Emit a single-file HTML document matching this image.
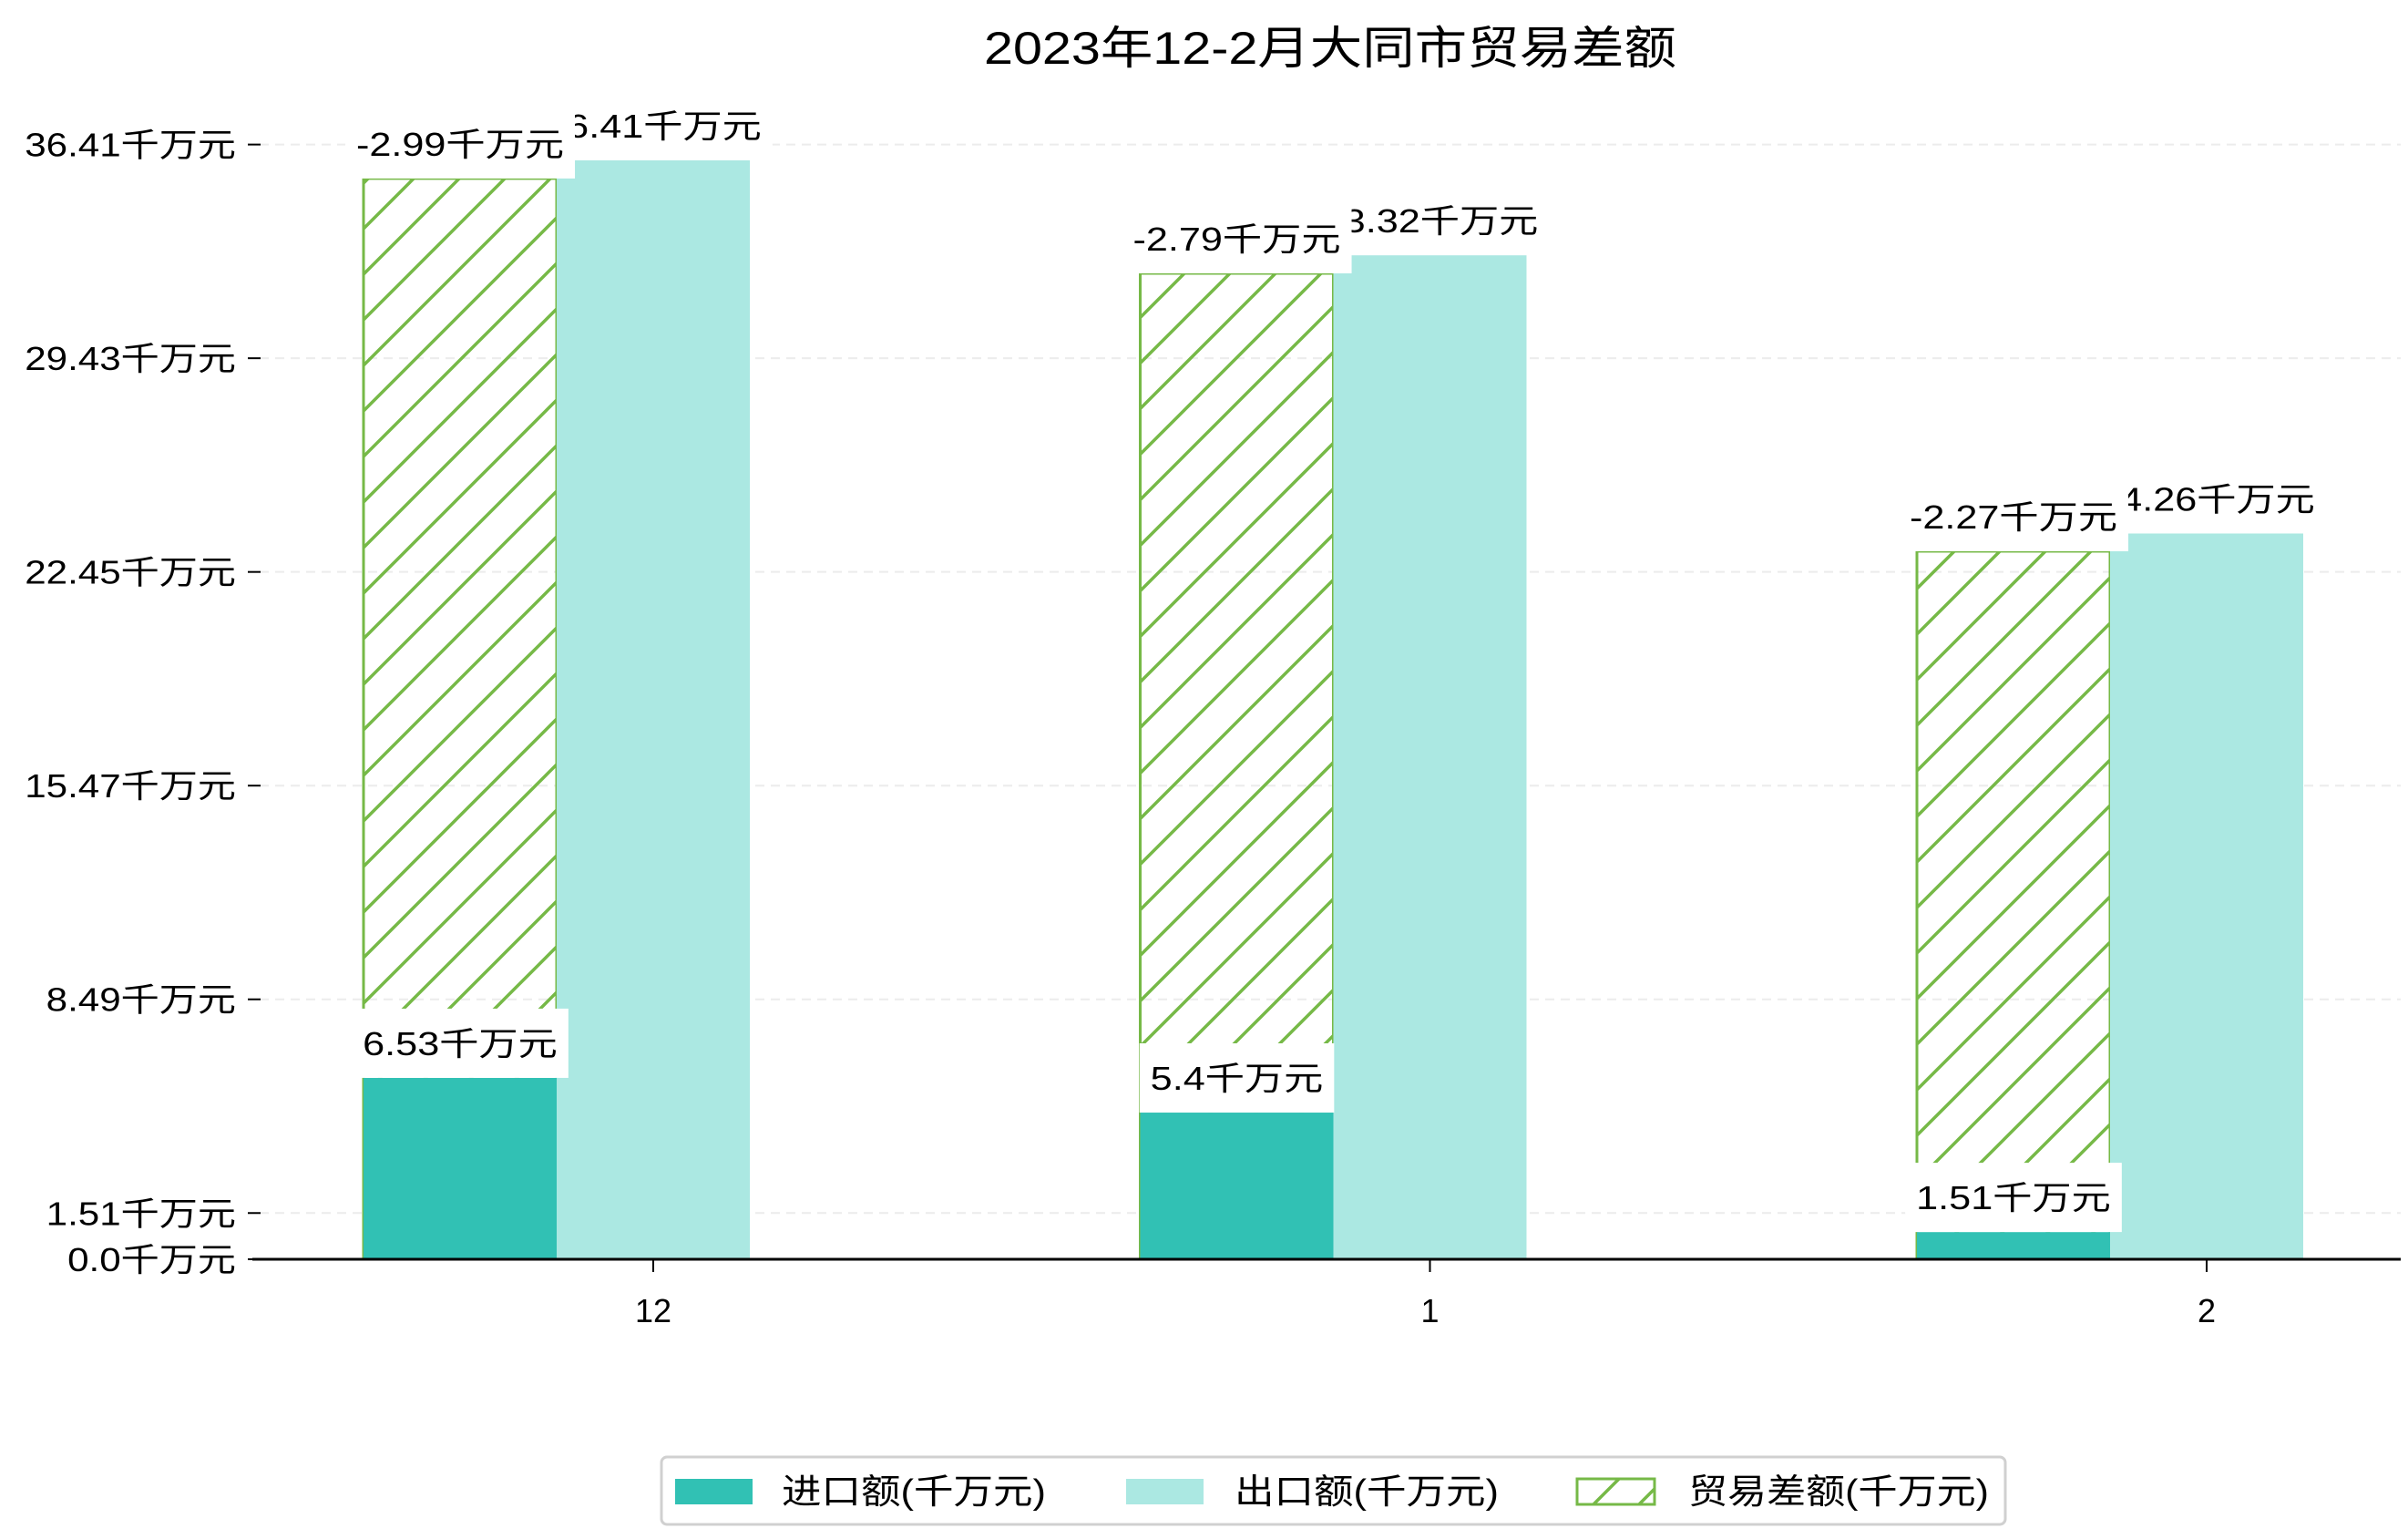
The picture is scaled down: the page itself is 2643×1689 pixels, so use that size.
<!DOCTYPE html>
<html><head><meta charset="utf-8"><style>
html,body{margin:0;padding:0;background:#fff;}
svg{display:block;font-family:"Liberation Sans","Noto Sans CJK SC",sans-serif;}
</style></head><body>
<svg id="chart" width="2643" height="1689" viewBox="0 0 2643 1689" xmlns="http://www.w3.org/2000/svg">
<defs>
<pattern id="hatch" patternUnits="userSpaceOnUse" width="50" height="50">
<line x1="-5" y1="55" x2="55" y2="-5" stroke="#76b947" stroke-width="3.5"/>
<line x1="-30" y1="30" x2="30" y2="-30" stroke="#76b947" stroke-width="3.5"/>
<line x1="20" y1="80" x2="80" y2="20" stroke="#76b947" stroke-width="3.5"/>
</pattern>
</defs>
<text x="1460" y="70" font-size="50" text-anchor="middle" textLength="760" lengthAdjust="spacingAndGlyphs">2023年12-2月大同市贸易差额</text>
<g id="grid"></g><g id="yaxis"></g><g id="bars"></g><g id="labels"></g><g id="xaxis"></g>
<g>
<rect x="726" y="1599" width="1475" height="74" rx="6" fill="#fff" stroke="#d0d0d0" stroke-width="3"/>
<rect x="741" y="1623" width="85" height="28" fill="#31c1b4"/>
<text x="858" y="1650" font-size="38" textLength="290" lengthAdjust="spacingAndGlyphs">进口额(千万元)</text>
<rect x="1236" y="1623" width="85" height="28" fill="#abe8e2"/>
<text x="1355" y="1650" font-size="38" textLength="290" lengthAdjust="spacingAndGlyphs">出口额(千万元)</text>
<rect x="1731" y="1623" width="85" height="28" fill="url(#hatch)" stroke="#76b947" stroke-width="3"/>
<text x="1853" y="1650" font-size="38" textLength="330" lengthAdjust="spacingAndGlyphs">贸易差额(千万元)</text>
</g>
</svg>
<script>
const categories = ['12', '1', '2'];
const importVals = [6.53, 5.4, 1.51];
const exportVals = [36.41, 33.32, 24.26];
const balanceVals = [-2.99, -2.79, -2.27];
const balanceBarVals = [35.82, 32.73, 23.68];
const tickLabels = [0.0, 1.51, 8.49, 15.47, 22.45, 29.43, 36.41];

const NS = 'http://www.w3.org/2000/svg';
const baseY = 1382, plotL = 277, plotR = 2635;
function py(v){ return 1403 - v * 33.7; }
function tickY(v){ return baseY - v * 33.6; }
const groupW = 852.5, barW = 212;
function cx(i){ return 717 + i * groupW; }
function mk(tag, attrs, parent){ const e=document.createElementNS(NS,tag); for(const k in attrs) e.setAttribute(k,attrs[k]); parent.appendChild(e); return e; }
function widen(t, f){ const w=t.getComputedTextLength()*f; t.setAttribute('textLength', w); t.setAttribute('lengthAdjust','spacingAndGlyphs'); return w; }
const grid=document.getElementById('grid'), yax=document.getElementById('yaxis'), bars=document.getElementById('bars'), labels=document.getElementById('labels'), xax=document.getElementById('xaxis');

tickLabels.forEach((t)=>{
  const y=tickY(t);
  if(t>0){
    const g=mk('line',{x1:285,x2:plotR,y1:y,y2:y,stroke:'#ececec','stroke-width':2,'stroke-dasharray':'10,7'},grid);
    
    
  }
  const tm=mk('line',{x1:272,x2:286,y1:y,y2:y,stroke:'#000','stroke-width':2},yax);
  
  
  const tx=mk('text',{x:259,y:y+13,'font-size':36,'text-anchor':'end'},yax);
  tx.textContent=(Number.isInteger(t)?t.toFixed(1):String(t))+'千万元';
  
  
  widen(tx,1.17);
});

function addLabel(text, centerX, topY){
  const t=mk('text',{x:centerX,y:topY-25,'font-size':36,'text-anchor':'middle'},labels);
  t.textContent=text;
  
  
  const w=widen(t,1.2)+24;
  const r=document.createElementNS(NS,'rect');
  r.setAttribute('x',centerX-w/2); r.setAttribute('y',topY-76); r.setAttribute('width',w); r.setAttribute('height',76); r.setAttribute('fill','#fff');
  
  
  labels.insertBefore(r,t);
}

categories.forEach((c,i)=>{
  const c0=cx(i);
  const hx=c0-1.5*barW, ex=c0-0.5*barW;
  const hb=mk('rect',{x:hx,y:py(balanceBarVals[i]),width:barW,height:baseY-py(balanceBarVals[i]),fill:'url(#hatch)',stroke:'#76b947','stroke-width':3},bars);
  
  
  const ib=mk('rect',{x:hx,y:py(importVals[i]),width:barW,height:baseY-py(importVals[i]),fill:'#31c1b4'},bars);
  
  
  const eb=mk('rect',{x:ex,y:py(exportVals[i]),width:barW,height:baseY-py(exportVals[i]),fill:'#abe8e2'},bars);
  
  
});
categories.forEach((c,i)=>{ addLabel(exportVals[i]+'千万元', cx(i), py(exportVals[i])); });
categories.forEach((c,i)=>{ addLabel(balanceVals[i]+'千万元', cx(i)-barW, py(balanceBarVals[i])); });
categories.forEach((c,i)=>{ addLabel(importVals[i]+'千万元', cx(i)-barW, py(importVals[i])); });

const ax=mk('line',{x1:plotL,x2:plotR,y1:baseY,y2:baseY,stroke:'#000','stroke-width':3},xax);


categories.forEach((c,i)=>{
  const tk=mk('line',{x1:cx(i),x2:cx(i),y1:baseY,y2:baseY+14,stroke:'#000','stroke-width':2},xax);
  
  
  const t=mk('text',{x:cx(i),y:1451,'font-size':36,'text-anchor':'middle'},xax);
  t.textContent=c;
  
  
});
</script>
</body></html>
